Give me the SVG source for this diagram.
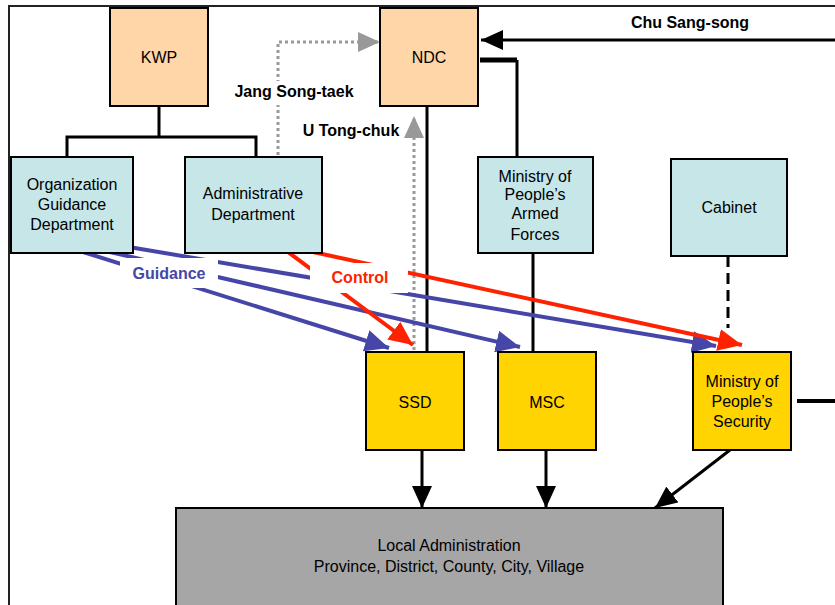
<svg xmlns="http://www.w3.org/2000/svg" width="835" height="605" viewBox="0 0 835 605">
<style>
.box{stroke:#000;stroke-width:2}
.party{fill:#FFD6A8}
.dept{fill:#C6E6E8}
.sec{fill:#FFD400}
.loc{fill:#A6A6A6}
.t{font-family:"Liberation Sans",Arial,sans-serif;font-size:16px;fill:#000;text-anchor:middle}
.b{font-family:"Liberation Sans",Arial,sans-serif;font-size:16px;font-weight:bold;text-anchor:middle}
.blk{stroke:#000;stroke-width:3;fill:none}
.dot{stroke:#999;stroke-width:3;stroke-dasharray:3 3;fill:none}
.blue{stroke:#4646A8;stroke-width:4;fill:none}
.red{stroke:#FF2200;stroke-width:4;fill:none}
</style>
<defs>
<marker id="ak" markerUnits="userSpaceOnUse" markerWidth="22" markerHeight="20" refX="22" refY="10" orient="auto"><path d="M0,0 L22,10 L0,20 z" fill="#000"/></marker>
<marker id="ag" markerUnits="userSpaceOnUse" markerWidth="22" markerHeight="20" refX="22" refY="10" orient="auto"><path d="M0,0 L22,10 L0,20 z" fill="#999"/></marker>
<marker id="ab" markerUnits="userSpaceOnUse" markerWidth="24" markerHeight="22" refX="24" refY="11" orient="auto"><path d="M0,0 L24,11 L0,22 z" fill="#4646A8"/></marker>
<marker id="ar" markerUnits="userSpaceOnUse" markerWidth="24" markerHeight="22" refX="24" refY="11" orient="auto"><path d="M0,0 L24,11 L0,22 z" fill="#FF2200"/></marker>
</defs>
<rect width="835" height="605" fill="#fff"/>
<path d="M9,605 V6 H835" stroke="#222" stroke-width="2" fill="none"/>

<g id="connectors">
<path class="blk" d="M159,106 V137 M67,158 V137 H256 V158"/>
<path class="blk" d="M427,106 V352"/>
<path d="M480,60 H517" stroke="#000" stroke-width="5"/>
<path class="blk" d="M517,60 V157"/>
<path class="blk" d="M533,253 V352"/>
<path d="M728,256 V328" stroke="#000" stroke-width="3" stroke-dasharray="11 6"/>
<path class="blk" d="M835,40 H481" marker-end="url(#ak)"/>
<path d="M797,401 H835" stroke="#000" stroke-width="4"/>
<path class="dot" d="M278,155 V42 H380" marker-end="url(#ag)"/>
<path class="dot" d="M414,350 V116" marker-end="url(#ag)"/>
<path class="blk" d="M422,450 V508" marker-end="url(#ak)"/>
<path class="blk" d="M546,450 V508" marker-end="url(#ak)"/>
<path class="blk" d="M730,450 L655,508" marker-end="url(#ak)"/>
<path class="blue" d="M83,252 L389,348" marker-end="url(#ab)"/>
<path class="blue" d="M110,252 L520,347" marker-end="url(#ab)"/>
<path class="blue" d="M117,245 L716,346" marker-end="url(#ab)"/>
<path class="red" d="M288,252 L413,345" marker-end="url(#ar)"/>
<path class="red" d="M313,252 L742,345" marker-end="url(#ar)"/>
<rect x="120" y="258" width="98" height="30" fill="#fff"/>
<rect x="310" y="263" width="98" height="30" fill="#fff"/>
<text class="b" x="169" y="279" fill="#4646A8">Guidance</text>
<text class="b" x="360" y="283" fill="#FF2200">Control</text>
<rect x="228" y="81" width="134" height="24" fill="#fff"/>
<text class="b" x="294" y="97" fill="#000">Jang Song-taek</text>
<text class="b" x="351" y="136" fill="#000">U Tong-chuk</text>
<text class="b" x="690" y="28" fill="#000">Chu Sang-song</text>
</g>

<g id="kwp"><rect class="box party" x="110" y="8" width="98" height="98"/><text class="t" x="159" y="63">KWP</text></g>
<g id="ndc"><rect class="box party" x="380" y="8" width="98" height="98"/><text class="t" x="429" y="63">NDC</text></g>
<g id="ogd"><rect class="box dept" x="11" y="157" width="122" height="96"/><text class="t" x="72" y="190">Organization</text><text class="t" x="72" y="210">Guidance</text><text class="t" x="72" y="230">Department</text></g>
<g id="admin"><rect class="box dept" x="185" y="157" width="137" height="96"/><text class="t" x="253" y="199">Administrative</text><text class="t" x="253" y="220">Department</text></g>
<g id="mpaf"><rect class="box dept" x="478" y="157" width="115" height="96"/><text class="t" x="535" y="182">Ministry of</text><text class="t" x="535" y="200">People’s</text><text class="t" x="535" y="219">Armed</text><text class="t" x="535" y="240">Forces</text></g>
<g id="cabinet"><rect class="box dept" x="671" y="159" width="116" height="97"/><text class="t" x="729" y="213">Cabinet</text></g>
<g id="ssd"><rect class="box sec" x="366" y="352" width="98" height="98"/><text class="t" x="415" y="408">SSD</text></g>
<g id="msc"><rect class="box sec" x="498" y="352" width="98" height="98"/><text class="t" x="547" y="408">MSC</text></g>
<g id="mps"><rect class="box sec" x="693" y="352" width="98" height="98"/><text class="t" x="742" y="387">Ministry of</text><text class="t" x="742" y="407">People’s</text><text class="t" x="742" y="427">Security</text></g>
<g id="local"><rect class="box loc" x="176" y="508" width="547" height="100"/><text class="t" x="449" y="551">Local Administration</text><text class="t" x="449" y="572">Province, District, County, City, Village</text></g>
</svg>
